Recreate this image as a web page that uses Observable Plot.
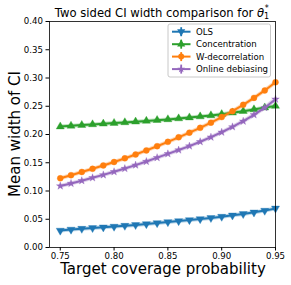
<!DOCTYPE html>
<html><head><meta charset="utf-8">
<script src="https://cdn.jsdelivr.net/npm/d3@7"></script>
<script src="https://cdn.jsdelivr.net/npm/@observablehq/plot@0.6"></script>
<style>body{margin:0;background:#fff}</style>
</head><body><div id="chart"></div>
<script>
const coverage = [0.75,0.76,0.77,0.78,0.79,0.80,0.81,0.82,0.83,0.84,0.85,0.86,0.87,0.88,0.89,0.90,0.91,0.92,0.93,0.94,0.95];
const ols = [0.030,0.0318,0.0333,0.0346,0.0358,0.0370,0.0386,0.0400,0.0416,0.0434,0.0452,0.0469,0.0487,0.0505,0.0524,0.0546,0.0569,0.0594,0.0622,0.0653,0.0692];
const concentration = [0.214,0.2153,0.2166,0.2178,0.2190,0.2202,0.2214,0.2226,0.2240,0.2254,0.2267,0.2283,0.2300,0.2318,0.2337,0.2358,0.2385,0.2413,0.2443,0.2476,0.2505];
const wdecor = [0.1225,0.1280,0.1337,0.1393,0.1452,0.1513,0.1578,0.1646,0.1718,0.1793,0.1870,0.1950,0.2033,0.2118,0.2210,0.2308,0.2412,0.2525,0.2648,0.2780,0.2925];
const online = [0.1088,0.1134,0.1182,0.1233,0.1285,0.1340,0.1397,0.1458,0.1522,0.1590,0.1658,0.1725,0.1795,0.1872,0.1953,0.2040,0.2135,0.2235,0.2348,0.2475,0.2625];
const seriesNames = ["OLS","Concentration","W-decorrelation","Online debiasing"];
const seriesValues = [ols, concentration, wdecor, online];
const colors = ["#1f77b4","#2ca02c","#ff7f0e","#9467bd"];
const xTicks = [0.75,0.80,0.85,0.90,0.95];
const yTicks = [0,0.05,0.10,0.15,0.20,0.25,0.30,0.35,0.40];

const triDown = {draw(ctx, size){ const y = -Math.sqrt(size/(Math.sqrt(3)*3)); ctx.moveTo(0,-2*y); ctx.lineTo(-Math.sqrt(3)*y, y); ctx.lineTo(Math.sqrt(3)*y, y); ctx.closePath(); }};
const symbols = [triDown, d3.symbolTriangle, d3.symbolCircle, d3.symbolStar];
const radii = [3, 3, 3, 2.4];

const rows = [];
seriesNames.forEach((s,i)=>coverage.forEach((c,j)=>rows.push({series:s, idx:i, x:c, y:seriesValues[i][j]})));

const W=291,H=285,mL=49,mR=16,mT=21,mB=38;
const marks = [];
seriesNames.forEach((s,i)=>{
  const d = rows.filter(r=>r.series===s);
  marks.push(Plot.line(d,{x:"x",y:"y",stroke:colors[i],strokeWidth:4,strokeOpacity:0.3}));
  marks.push(Plot.line(d,{x:"x",y:"y",stroke:colors[i],strokeWidth:2}));
  marks.push(Plot.dot(d,{x:"x",y:"y",fill:colors[i],stroke:colors[i],strokeOpacity:0.35,strokeWidth:1,symbol:symbols[i],r:radii[i]}));
});
const chart = Plot.plot({
  width:W,height:H,marginLeft:mL,marginRight:mR,marginTop:mT,marginBottom:mB,
  style:{fontFamily:"DejaVu Sans",fontSize:"8.6px",color:"black",background:"white"},
  x:{domain:[0.74,0.95]},
  y:{domain:[0,0.40]},
  marks:[
    ...marks,
    Plot.frame({stroke:"black",strokeWidth:0.8}),
    Plot.axisX({ticks:xTicks,tickFormat:d3.format(".2f"),tickSize:3.5,tickPadding:2,label:null}),
    Plot.axisY({ticks:yTicks,tickFormat:d3.format(".2f"),tickSize:3.5,tickPadding:3,label:null})
  ]
});
document.getElementById("chart").appendChild(chart);
const svg = d3.select(chart);
const cx = (mL + (W-mR))/2;
const t = svg.append("text").attr("x",cx).attr("y",16.5).attr("text-anchor","middle").attr("font-size","11.6px").attr("fill","black");
t.append("tspan").text("Two sided CI width comparison for ");
t.append("tspan").attr("font-style","italic").text("θ");
t.append("tspan").attr("font-size","8px").attr("dy",2.5).text("1");
t.append("tspan").attr("font-size","8px").attr("dx",-4.5).attr("dy",-8).text("*");
svg.append("text").attr("x",163).attr("y",274).attr("text-anchor","middle").attr("font-size","15px").attr("fill","black").text("Target coverage probability");
svg.append("text").attr("transform","translate(20,134) rotate(-90)").attr("text-anchor","middle").attr("font-size","15px").attr("fill","black").text("Mean width of CI");
// legend
const lg = svg.append("g").attr("text-anchor","start");
lg.append("rect").attr("x",168).attr("y",24).attr("width",102.5).attr("height",53).attr("rx",2).attr("fill","white").attr("fill-opacity",0.8).attr("stroke","#c8c8c8").attr("stroke-width",1);
const rowY = [31.7,44.2,56.6,69.1];
seriesNames.forEach((s,i)=>{
  const y = rowY[i];
  lg.append("line").attr("x1",172).attr("x2",190.5).attr("y1",y).attr("y2",y).attr("stroke",colors[i]).attr("stroke-width",2);
  lg.append("line").attr("x1",181.2).attr("x2",181.2).attr("y1",y-4.5).attr("y2",y+4.5).attr("stroke",colors[i]).attr("stroke-width",1.8);
  const sz = Math.PI*Math.pow(radii[i],2);
  lg.append("path").attr("d",d3.symbol(symbols[i],sz)()).attr("transform",`translate(181.2,${y})`).attr("fill",colors[i]);
  lg.append("text").attr("x",196).attr("y",y+3.1).attr("text-anchor","start").attr("font-size","8.6px").attr("fill","black").text(s);
});
</script>
</body></html>
